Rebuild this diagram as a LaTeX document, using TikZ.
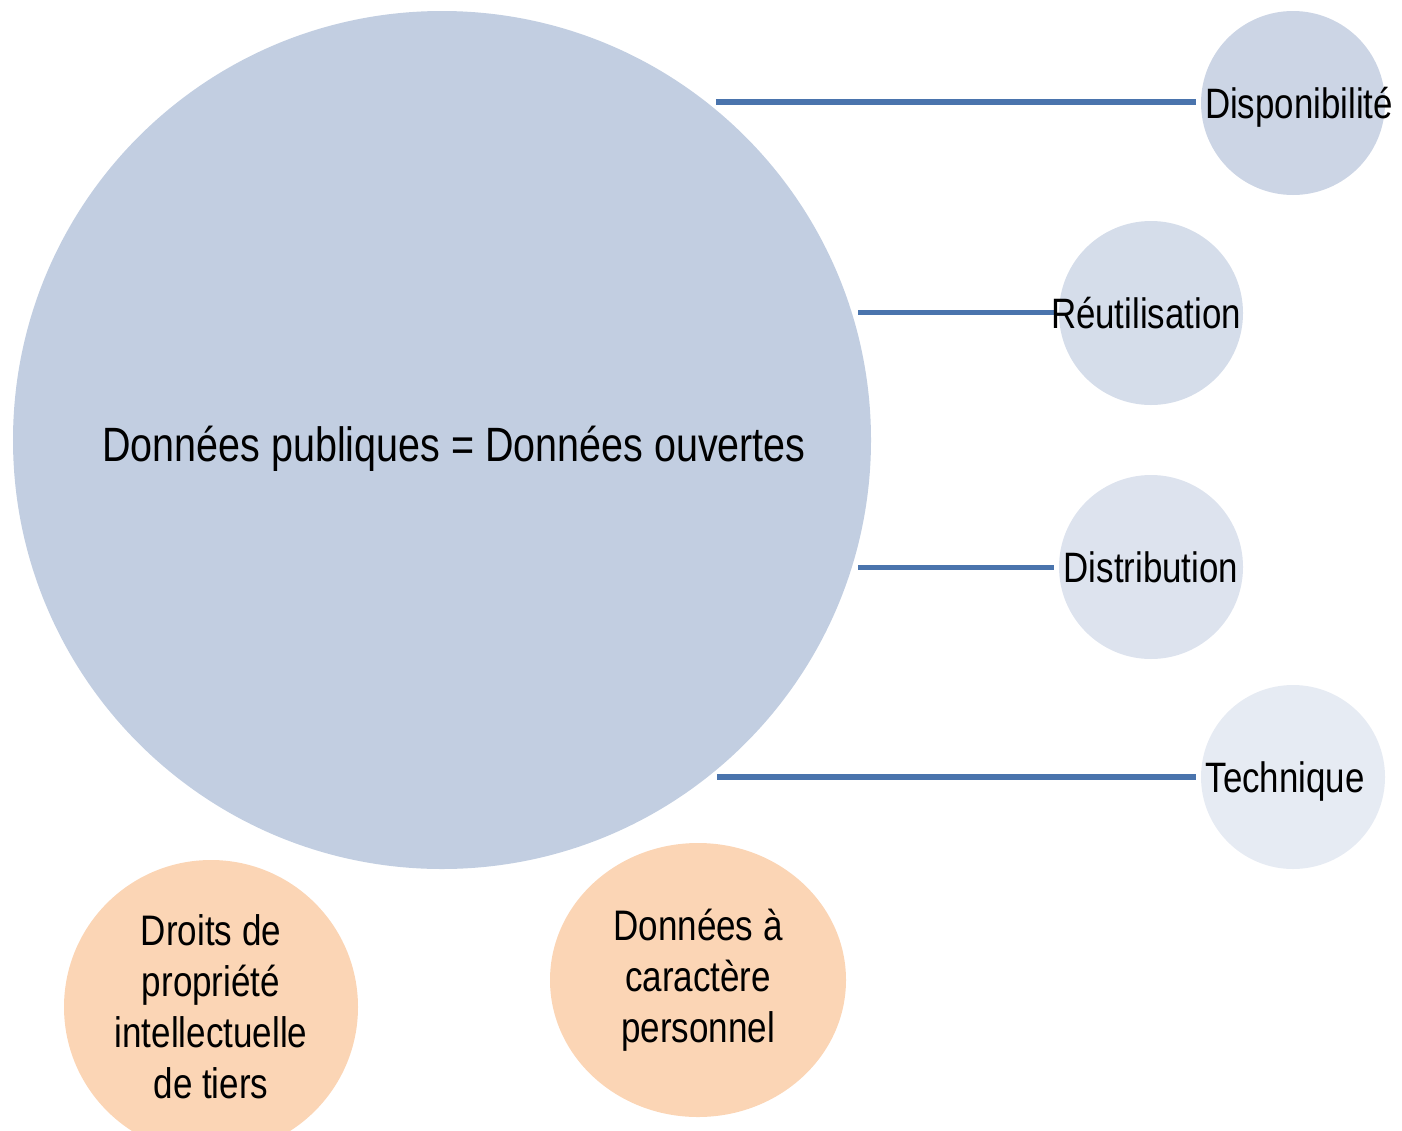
\documentclass[tikz,border=0pt]{standalone}
\usepackage{fontspec}
\setmainfont[FakeStretch=0.82]{Liberation Sans}
\usepackage{tikz}
\usetikzlibrary{positioning, calc, shapes.geometric, backgrounds}
\definecolor{bigfill}{HTML}{C2CEE1}
\definecolor{fillA}{HTML}{CCD5E5}
\definecolor{fillB}{HTML}{D5DDEA}
\definecolor{fillC}{HTML}{DDE3EE}
\definecolor{fillD}{HTML}{E6EBF3}
\definecolor{peach}{HTML}{FBD5B5}
\definecolor{linkblue}{HTML}{4A74AD}

\begin{document}
\begin{tikzpicture}[small/.style={circle,minimum size=3.68cm,inner sep=0pt},
        tag/.style={inner sep=0pt,text depth=0pt,font=\fontsize{24.2}{29}\selectfont},
        risk/.style={ellipse,fill=peach,inner sep=0pt,align=center,font=\fontsize{24.3}{29}\selectfont},
        link/.style={linkblue,line width=3pt,shorten >=0.1cm}]
        \useasboundingbox (0,0) rectangle (28.04,-22.6);
        \node[circle,fill=bigfill,minimum size=17.16cm,inner sep=0pt,
              label={[inner sep=0pt,text depth=0pt,font=\fontsize{27.4}{32}\selectfont,xshift=0.24cm,yshift=-0.08cm]center:Données publiques = Données ouvertes}] (big) at (8.84,-8.8) {};
        \node[small,fill=fillA,label={[tag,xshift=0.12cm]center:Disponibilité}] (dispo) at (25.86,-2.06) {};
        \node[small,fill=fillB,label={[tag,xshift=-0.1cm]center:Réutilisation}] (reuse) at (23.02,-6.26) {};
        \node[small,fill=fillC,label={[tag]center:Distribution}] (distrib) at (23.02,-11.34) {};
        \node[small,fill=fillD,label={[tag,xshift=-0.16cm]center:Technique}] (tech) at (25.86,-15.54) {};
        \node[risk,minimum width=5.88cm,minimum height=5.88cm] (droits) at (4.22,-20.14) {Droits de\\propriété\\intellectuelle\\de tiers};
        \node[risk,minimum width=5.92cm,minimum height=5.48cm] (perso) at (13.96,-19.6) {Données à\\caractère\\personnel};

        \coordinate (c1) at ($(big.center)+(51:8.7)$);
        \coordinate (c2) at ($(big.center)+(17:8.7)$);
        \coordinate (c3) at ($(big.center)+(-17:8.7)$);
        \coordinate (c4) at ($(big.center)+(-50.8:8.7)$);

        \begin{scope}[on background layer]
        \draw[link] (c1) -- (c1 -| dispo.west);
        \draw[link] (c2) -- (c2 -| reuse.west);
        \draw[link] (c3) -- (c3 -| distrib.west);
        \draw[link] (c4) -- (c4 -| tech.west);
        \end{scope}
\end{tikzpicture}
\end{document}
